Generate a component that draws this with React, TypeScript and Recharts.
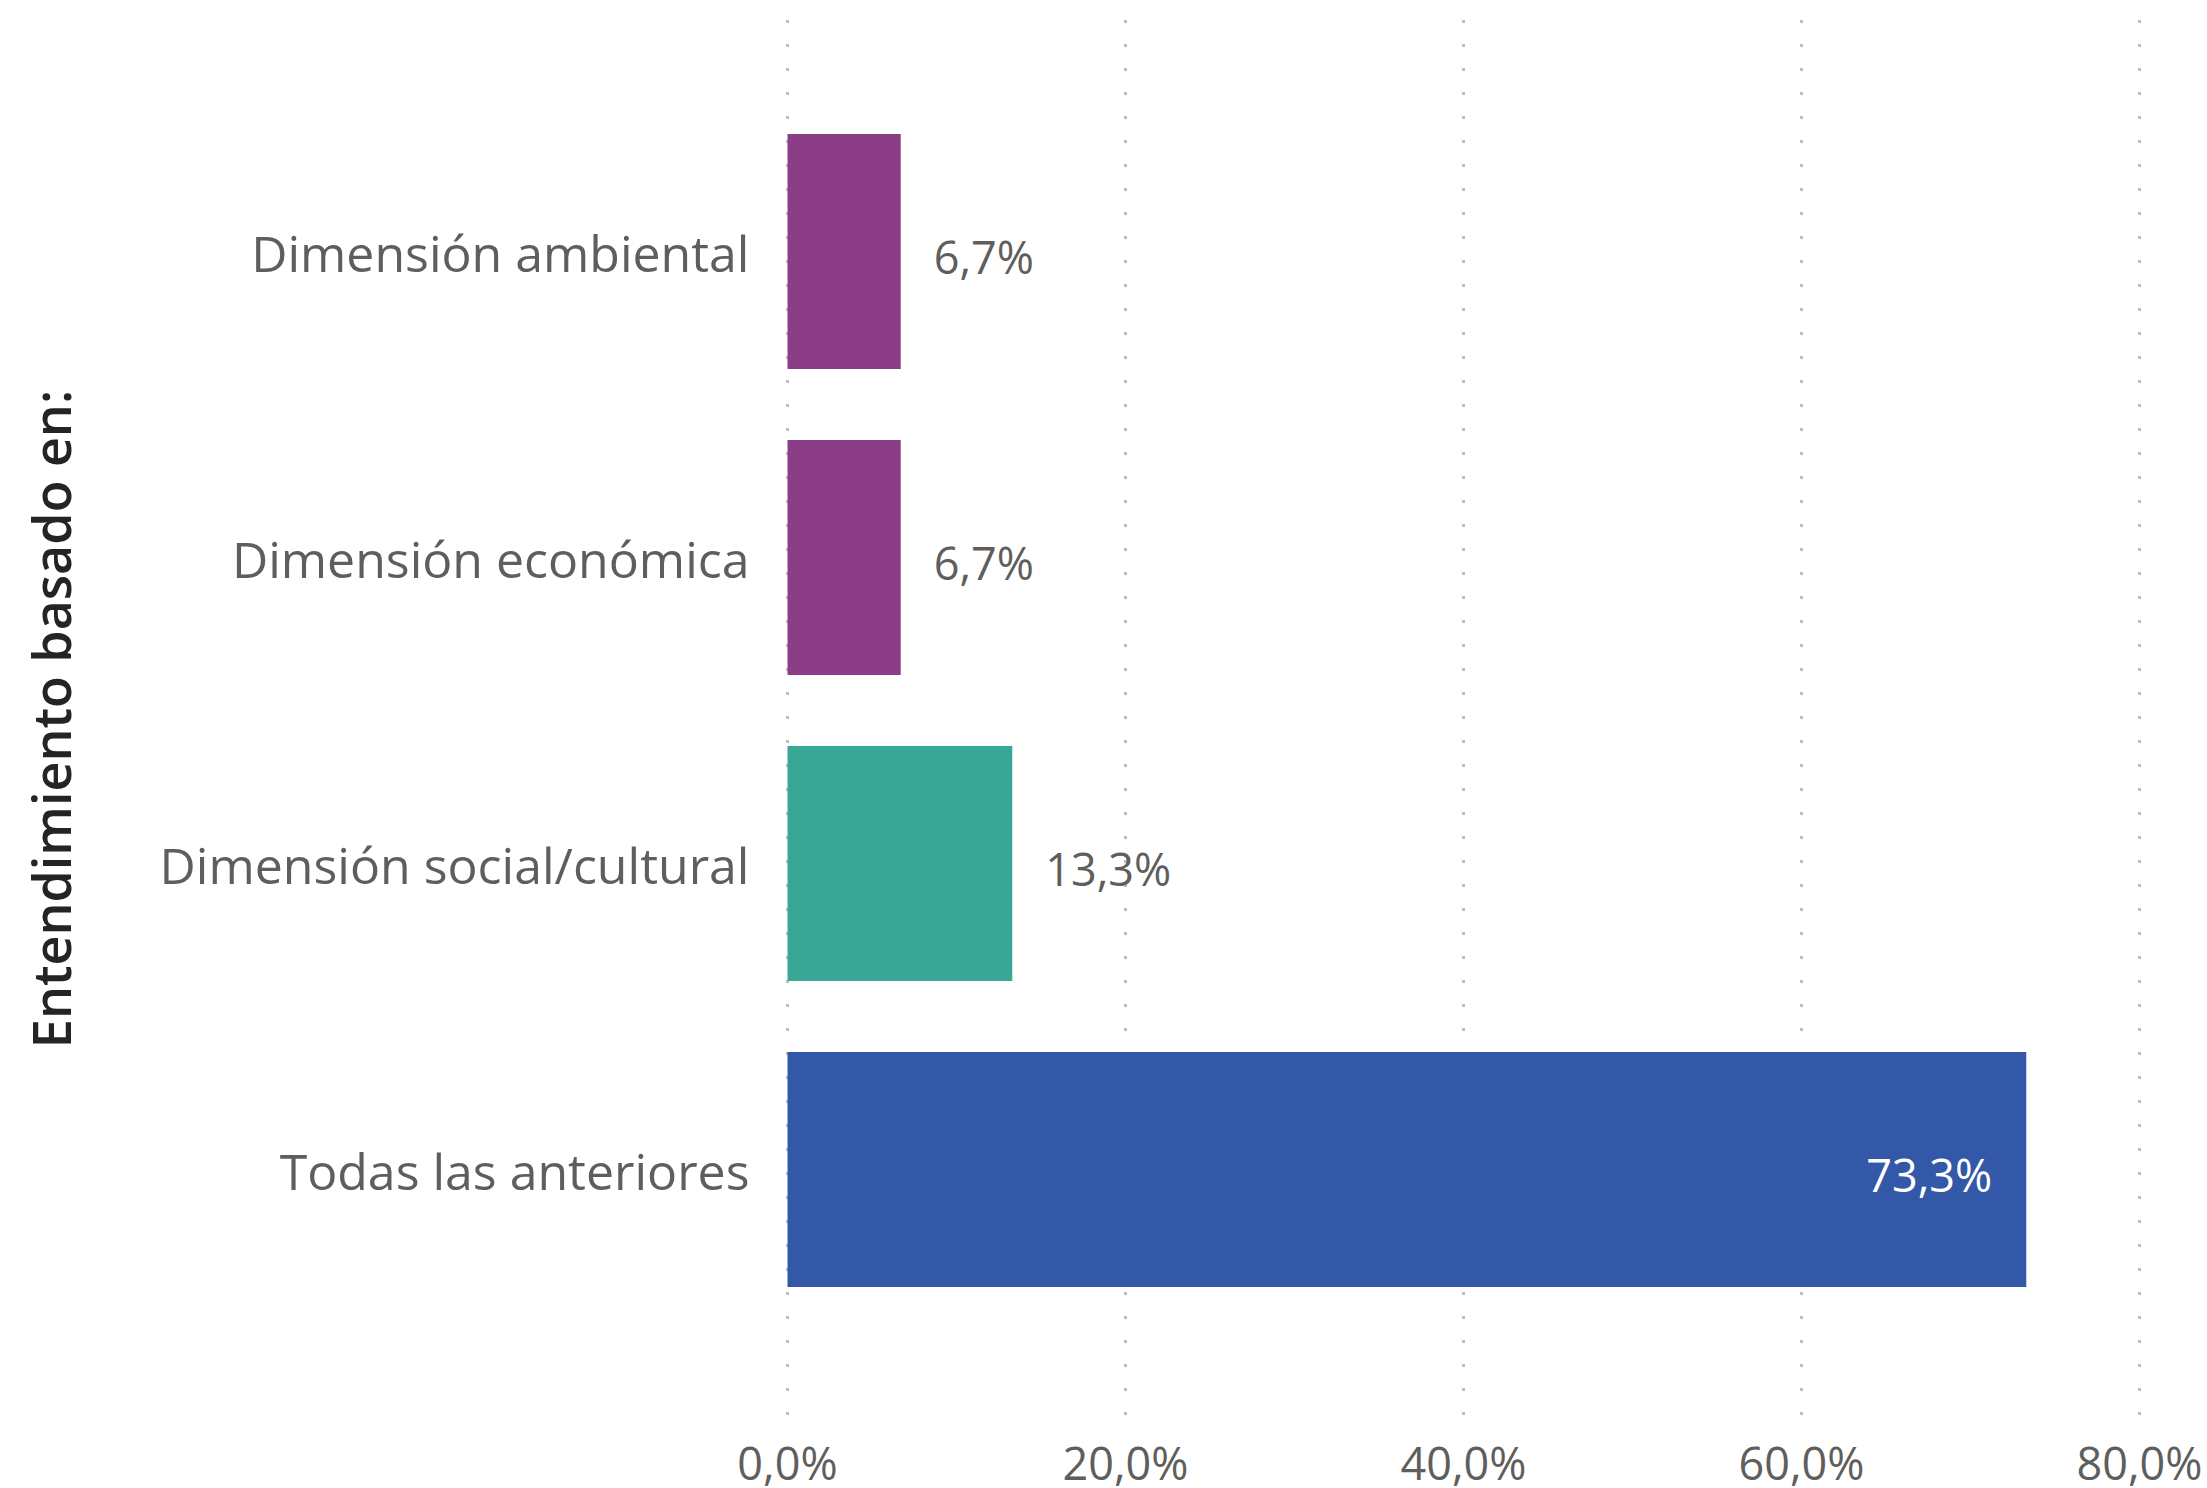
import React from 'react';
import { BarChart, Bar, XAxis, YAxis, CartesianGrid, Cell, LabelList } from 'recharts';

const categories = [
  'Dimensión ambiental',
  'Dimensión económica',
  'Dimensión social/cultural',
  'Todas las anteriores',
];
const values = [6.7, 6.7, 13.3, 73.3];
const barColors = ['#8B3D85', '#8B3D85', '#38A795', '#3358A8'];
const xTicks = [0, 20, 40, 60, 80];

const data = categories.map((name, i) => ({ name, value: values[i] }));

const FONT = '"Segoe UI", "Open Sans", sans-serif';
const fmt = (v: number) => v.toFixed(1).replace('.', ',') + '%';

const TitleLabel = (props: any) => {
  const vb = props.viewBox || {};
  const cy = (vb.y ?? 0) + (vb.height ?? 0) / 2;
  return (
    <text
      x={71}
      y={cy}
      transform={`rotate(-90, 71, ${cy})`}
      textAnchor="middle"
      fontFamily={FONT}
      fontWeight={600}
      fontSize={52}
      fill="#252423"
    >
      Entendimiento basado en:
    </text>
  );
};

const CategoryTick = (props: any) => {
  const { x, y, payload } = props;
  return (
    <text
      x={x}
      y={y}
      dy="0.42em"
      textAnchor="end"
      fontFamily={FONT}
      fontSize={50}
      fill="#605E5C"
    >
      {payload.value}
    </text>
  );
};

const ValueLabel = (props: any) => {
  const { x, y, width, height, value } = props;
  const inside = value > 50;
  const tx = inside ? x + width - 34 : x + width + 33;
  return (
    <text
      x={tx}
      y={y + height / 2}
      dy="0.5em"
      textAnchor={inside ? 'end' : 'start'}
      fontFamily={FONT}
      fontSize={45}
      fill={inside ? '#FFFFFF' : '#605E5C'}
    >
      {fmt(value)}
    </text>
  );
};

export default function App() {
  return (
    <div style={{ position: 'absolute', left: 0, top: 0, background: '#fff' }}>
      <BarChart
        width={2207}
        height={1488}
        data={data}
        layout="vertical"
        margin={{ top: 20, right: 67.5, bottom: 0, left: 0 }}
      >
        <CartesianGrid
          horizontal={false}
          stroke="#BDBDBD"
          strokeWidth={3}
          strokeDasharray="3 21"
        />
        <XAxis
          type="number"
          domain={[0, 80]}
          ticks={xTicks}
          tickFormatter={fmt}
          axisLine={false}
          tickLine={false}
          tickSize={0}
          tickMargin={30}
          height={70}
          tick={{ fill: '#605E5C', fontSize: 45, fontFamily: FONT }}
          interval={0}
        />
        <YAxis
          type="category"
          dataKey="name"
          width={787.5}
          axisLine={false}
          tickLine={false}
          tickSize={0}
          tickMargin={38}
          padding={{ top: 78, bottom: 96 }}
          tick={<CategoryTick />}
          interval={0}
          label={<TitleLabel />}
        />
        <Bar dataKey="value" barSize={235} isAnimationActive={false}>
          {data.map((d, i) => (
            <Cell key={d.name} fill={barColors[i]} />
          ))}
          <LabelList dataKey="value" content={<ValueLabel />} />
        </Bar>
      </BarChart>
    </div>
  );
}
